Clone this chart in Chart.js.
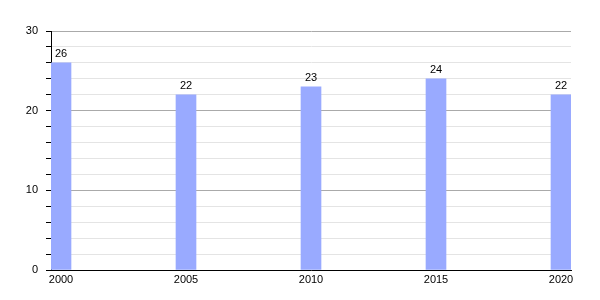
<!DOCTYPE html>
<html>
<head>
<meta charset="utf-8">
<script src="https://cdn.jsdelivr.net/npm/chart.js@4/dist/chart.umd.min.js"></script>
<style>
  html, body { margin: 0; padding: 0; background: #fff; }
  #wrap { width: 600px; height: 300px; }
</style>
</head>
<body>
<div id="wrap"><canvas id="chart"></canvas></div>
<script>
const years = [2000, 2005, 2010, 2015, 2020];
const values = [26, 22, 23, 24, 22];
const yLabels = [0, 10, 20, 30];

const barLabels = {
  id: 'barLabels',
  afterDatasetsDraw(chart) {
    const ctx = chart.ctx;
    const meta = chart.getDatasetMeta(0);
    ctx.save();
    ctx.font = '11px "Liberation Sans", Arial, sans-serif';
    ctx.fillStyle = '#000';
    ctx.textAlign = 'center';
    ctx.textBaseline = 'bottom';
    meta.data.forEach((bar, i) => {
      ctx.fillText(String(values[i]), bar.x, bar.y - 3);
    });
    ctx.restore();
  }
};

Chart.defaults.font.family = '"Liberation Sans", Arial, sans-serif';
Chart.defaults.font.size = 11;
Chart.defaults.color = '#000';

new Chart(document.getElementById('chart').getContext('2d'), {
  type: 'bar',
  data: {
    datasets: [{
      data: years.map((y, i) => ({ x: y, y: values[i] })),
      backgroundColor: '#99aaff',
      borderWidth: 0,
      barThickness: 20,
    }]
  },
  options: {
    responsive: true, maintainAspectRatio: false,
    animation: false,
    layout: { padding: { top: 31, right: 29, left: 0, bottom: 0 } },
    plugins: { legend: { display: false }, tooltip: { enabled: false } },
    scales: {
      x: {
        type: 'linear',
        offset: false,
        min: 1999.6, max: 2020.4,
        afterBuildTicks: s => { s.ticks = years.map(v => ({ value: v })); },
        afterFit: s => { s.height = 30; },
        grid: { display: false, drawTicks: false, offset: false },
        border: { color: '#000', width: 1 },
        ticks: { padding: 3, maxRotation: 0, autoSkip: false, callback: v => String(v) }
      },
      y: {
        min: 0, max: 30,
        afterFit: s => { s.width = 51; },
        afterBuildTicks: s => {
          const t = [];
          for (let v = 0; v <= 30; v += 2) t.push({ value: v });
          s.ticks = t;
        },
        grid: {
          color: c => (c.tick && c.tick.value % 10 === 0) ? '#aaaaaa' : '#e4e4e4',
          tickColor: '#000',
          tickLength: 5,
        },
        border: { color: '#000', width: 1 },
        ticks: {
          padding: 8,
          autoSkip: false,
          callback: v => yLabels.includes(v) ? String(v) : ''
        }
      }
    }
  },
  plugins: [barLabels]
});
</script>
</body>
</html>
